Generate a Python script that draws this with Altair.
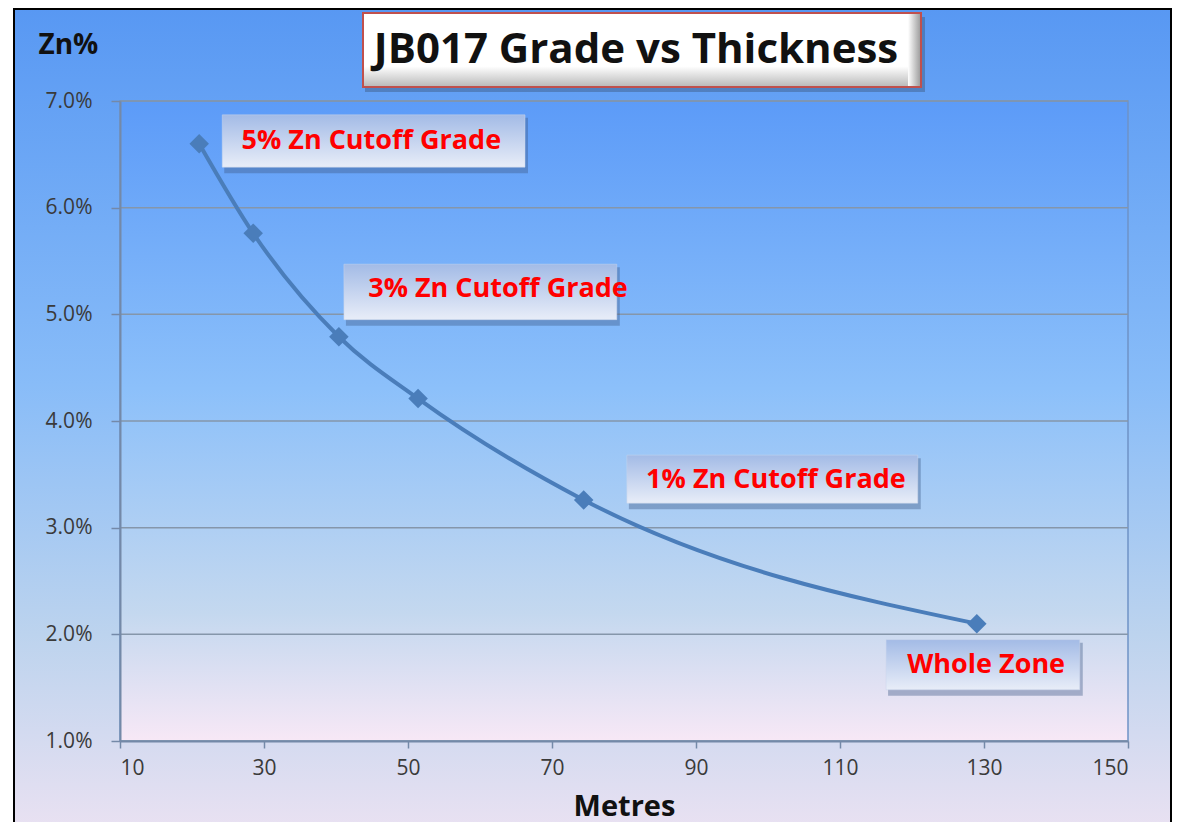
import altair as alt
import pandas as pd

# ---- data ----
thickness_m = [21.0, 28.5, 40.4, 51.4, 74.4, 129.0]
grade_pct = [6.60, 5.76, 4.79, 4.21, 3.26, 2.10]

label_text = ["5% Zn Cutoff Grade", "3% Zn Cutoff Grade", "1% Zn Cutoff Grade", "Whole Zone"]
label_x = [44.9, 62.5, 101.1, 130.3]
label_y = [6.625, 5.24, 3.45, 1.71]
box_x1 = [24.2, 41.1, 80.4, 116.4]
box_x2 = [66.25, 79.0, 120.8, 143.3]
box_y1 = [6.87, 5.47, 3.68, 1.95]
box_y2 = [6.38, 4.95, 3.23, 1.48]

x_ticks = [10, 30, 50, 70, 90, 110, 130, 150]
y_ticks = [1, 2, 3, 4, 5, 6, 7]

title_text = "JB017 Grade vs Thickness"
x_title = "Metres"
y_title = "Zn%"

W, H = 1008, 640
FONT = "Open Sans"

line_df = pd.DataFrame({"m": thickness_m, "g": [v / 100 for v in grade_pct]})
lab_df = pd.DataFrame({
    "t": label_text,
    "x": label_x, "y": [v / 100 for v in label_y],
    "x1": box_x1, "x2": box_x2,
    "y1": [v / 100 for v in box_y1], "y2": [v / 100 for v in box_y2],
})
grid_df = pd.DataFrame({"g": [v / 100 for v in y_ticks]})
one = pd.DataFrame({"a": [0]})

xs = alt.Scale(domain=[10, 150], nice=False, zero=False)
ys = alt.Scale(domain=[0.01, 0.07], nice=False, zero=False)

xax = alt.Axis(values=x_ticks, grid=False, tickSize=7, labelPadding=9,
               labelFontSize=21, labelColor="#3a3a3a", labelFont=FONT,
               domainColor="#7489a8", domainWidth=2, tickColor="#7489a8", tickWidth=1.5,
               title=x_title, titleFont=FONT, titleFontSize=29, titleFontWeight="bold",
               titleColor="#111111", titleY=74, titleBaseline="alphabetic", zindex=1)
yax = alt.Axis(values=[v / 100 for v in y_ticks], format=".1%", grid=False, tickSize=9,
               labelPadding=19, labelFontSize=21, labelColor="#3a3a3a", labelFont=FONT,
               domainColor="#7489a8", domainWidth=2, tickColor="#7489a8", tickWidth=1.5,
               title=y_title, titleFont=FONT, titleFontSize=28, titleFontWeight="bold",
               titleColor="#111111", titleAngle=0, titleAlign="left", titleX=-82, titleY=-48,
               titleBaseline="alphabetic", zindex=1)

outer_grad = alt.Gradient(gradient="linear", x1=0, y1=0, x2=0, y2=1, stops=[
    alt.GradientStop(offset=0, color="#5898f3"),
    alt.GradientStop(offset=0.45, color="#88bcf8"),
    alt.GradientStop(offset=0.75, color="#bcd3ee"),
    alt.GradientStop(offset=1, color="#ece2f2"),
])
plot_grad = alt.Gradient(gradient="linear", x1=0, y1=0, x2=0, y2=1, stops=[
    alt.GradientStop(offset=0, color="#5c9bf8"),
    alt.GradientStop(offset=0.45, color="#8cc0fa"),
    alt.GradientStop(offset=0.8, color="#c4d8ef"),
    alt.GradientStop(offset=1, color="#f7e8f6"),
])
box_grad = alt.Gradient(gradient="linear", x1=0, y1=0, x2=0, y2=1, stops=[
    alt.GradientStop(offset=0, color="#a3bbe6"),
    alt.GradientStop(offset=1, color="#e8edf8"),
])
title_grad = alt.Gradient(gradient="linear", x1=0, y1=0, x2=0, y2=1, stops=[
    alt.GradientStop(offset=0, color="#ffffff"),
    alt.GradientStop(offset=0.72, color="#ffffff"),
    alt.GradientStop(offset=1, color="#b8b8b8"),
])
title_side = alt.Gradient(gradient="linear", x1=0, y1=0, x2=1, y2=0, stops=[
    alt.GradientStop(offset=0, color="#ffffff"),
    alt.GradientStop(offset=1, color="#a0a0a0"),
])

outer_bg = alt.Chart(one).mark_rect(fill=outer_grad, stroke="#000000", strokeWidth=2).encode(
    x=alt.value(-106), x2=alt.value(1051), y=alt.value(-92), y2=alt.value(740))
plot_bg = alt.Chart(one).mark_rect(fill=plot_grad, stroke="#6f93c6", strokeWidth=1.5).encode(
    x=alt.value(0), x2=alt.value(W), y=alt.value(0), y2=alt.value(H))

grid = alt.Chart(grid_df).mark_rule(color="#8596aa", strokeWidth=1.5).encode(
    y=alt.Y("g:Q", scale=ys, axis=yax))

line = alt.Chart(line_df).mark_line(color="#4a7dba", strokeWidth=4, interpolate="monotone").encode(
    x=alt.X("m:Q", scale=xs, axis=xax), y=alt.Y("g:Q", scale=ys))
pts = alt.Chart(line_df).mark_point(shape="diamond", filled=True, size=380, color="#4a7dba", opacity=1).encode(
    x=alt.X("m:Q", scale=xs), y=alt.Y("g:Q", scale=ys))

shadow = alt.Chart(lab_df).mark_rect(color="#3e5b86", opacity=0.4, xOffset=2, x2Offset=3,
                                     yOffset=3, y2Offset=6).encode(
    x=alt.X("x1:Q", scale=xs), x2="x2:Q", y=alt.Y("y1:Q", scale=ys), y2="y2:Q")
boxes = alt.Chart(lab_df).mark_rect(fill=box_grad, stroke="#c9d4ea", strokeWidth=0.5).encode(
    x=alt.X("x1:Q", scale=xs), x2="x2:Q", y=alt.Y("y1:Q", scale=ys), y2="y2:Q")
texts = alt.Chart(lab_df).mark_text(font=FONT, fontSize=27, fontWeight="bold", color="#ff0000",
                                    align="center", baseline="middle").encode(
    x=alt.X("x:Q", scale=xs), y=alt.Y("y:Q", scale=ys), text="t:N")

t_shadow = alt.Chart(one).mark_rect(color="#3a4f70", opacity=0.4).encode(
    x=alt.value(245), x2=alt.value(805), y=alt.value(-84), y2=alt.value(-9))
t_box = alt.Chart(one).mark_rect(fill=title_grad, stroke="#c0504d", strokeWidth=2).encode(
    x=alt.value(243), x2=alt.value(801), y=alt.value(-88), y2=alt.value(-14))
t_side = alt.Chart(one).mark_rect(fill=title_side).encode(
    x=alt.value(788), x2=alt.value(800), y=alt.value(-87), y2=alt.value(-15))
t_text = alt.Chart(one).mark_text(font=FONT, fontSize=42, fontWeight="bold", color="#111111",
                                  align="center", baseline="middle", text=title_text).encode(
    x=alt.value(516), y=alt.value(-51))

chart = alt.layer(outer_bg, plot_bg, grid, line, pts, shadow, boxes, texts,
                  t_shadow, t_box, t_side, t_text).properties(
    width=W, height=H,
    autosize=alt.AutoSizeParams(type="none"),
    padding={"left": 112, "top": 93, "right": 44, "bottom": 81},
    background="#ffffff",
).configure_view(stroke=None)

chart.save("out.html", embed_options={"renderer": "svg", "actions": False})
